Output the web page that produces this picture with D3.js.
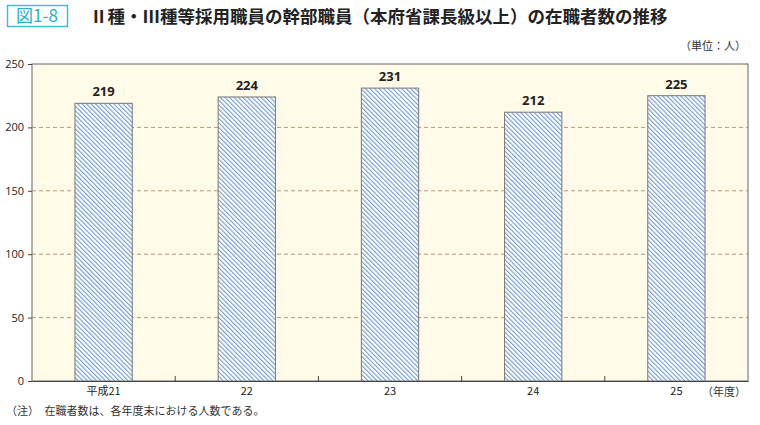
<!DOCTYPE html>
<html><head><meta charset="utf-8">
<script src="https://cdn.jsdelivr.net/npm/d3@7"></script>
<style>body{margin:0;background:#fff;font-family:"Open Sans","Noto Sans CJK JP",sans-serif;}</style>
</head><body><svg id="c" width="760" height="425"></svg>
<script>
const categories = ['平成21', '22', '23', '24', '25'];
const values = [219, 224, 231, 212, 225];
const yTicks = [0, 50, 100, 150, 200, 250];

const svg = d3.select('#c');
const jp = '"Noto Sans CJK JP", sans-serif';
const margin = {left: 32, right: 12, top: 64, bottom: 44};
const W = 760, H = 425;

const x = d3.scaleBand().domain(categories).range([margin.left, W - margin.right]).paddingInner(0.6).paddingOuter(0.3);
const y = d3.scaleLinear().domain([0, 250]).range([H - margin.bottom, margin.top]);

const defs = svg.append('defs');
const pat = defs.append('pattern').attr('id', 'hatch').attr('patternUnits', 'userSpaceOnUse')
  .attr('width', 3.2).attr('height', 4).attr('patternTransform', 'rotate(-45)');
pat.append('rect').attr('width', 3.2).attr('height', 4).attr('fill', '#fff');
pat.append('rect').attr('width', 1.1).attr('height', 4).attr('fill', '#6f9ad8');

// title
svg.append('rect').attr('x', 7.5).attr('y', 5.5).attr('width', 60).attr('height', 21)
  .attr('fill', '#fff').attr('stroke', '#3fbfd0').attr('stroke-width', 1.5);
svg.append('text').attr('x', 37).attr('y', 22).attr('text-anchor', 'middle').attr('fill', '#2ab0c8')
  .attr('font-size', 17).attr('font-family', jp).text('図1-8');
svg.append('text').attr('x', 90).attr('y', 23).attr('font-size', 17.5).attr('font-weight', 'bold')
  .attr('font-family', jp).attr('fill', '#222').text('Ⅱ種・Ⅲ種等採用職員の幹部職員（本府省課長級以上）の在職者数の推移');
svg.append('text').attr('x', 746).attr('y', 50).attr('text-anchor', 'end').attr('font-size', 11)
  .attr('font-family', jp).attr('fill', '#333').text('（単位：人）');

// plot
svg.append('rect').attr('x', margin.left).attr('y', margin.top)
  .attr('width', W - margin.right - margin.left).attr('height', H - margin.bottom - margin.top)
  .attr('fill', '#fffbe8').attr('stroke', '#666');

svg.append('g').selectAll('line').data(yTicks.filter(d => d > 0 && d < 250)).join('line')
  .attr('x1', margin.left).attr('x2', W - margin.right)
  .attr('y1', d => y(d)).attr('y2', d => y(d))
  .attr('stroke', '#a08060').attr('stroke-dasharray', '4,3').attr('stroke-width', 0.8);

svg.append('g').selectAll('rect').data(values).join('rect')
  .attr('x', (d, i) => x(categories[i])).attr('width', x.bandwidth())
  .attr('y', d => y(d)).attr('height', d => y(0) - y(d))
  .attr('fill', 'url(#hatch)').attr('stroke', '#777').attr('stroke-width', 1);

svg.append('g').selectAll('text').data(values).join('text')
  .attr('x', (d, i) => x(categories[i]) + x.bandwidth() / 2).attr('y', d => y(d) - 7)
  .attr('text-anchor', 'middle').attr('font-size', 13).attr('font-weight', 'bold').attr('fill', '#222')
  .text(d => d);

// axes
const yAxis = svg.append('g').attr('transform', `translate(${margin.left},0)`)
  .call(d3.axisLeft(y).tickValues(yTicks).tickSize(4).tickPadding(4));
yAxis.select('.domain').remove();
yAxis.selectAll('text').attr('font-size', 11).attr('fill', '#222').attr('font-family', '"Open Sans",sans-serif');
yAxis.selectAll('line').attr('stroke', '#444');

const xAxis = svg.append('g').attr('transform', `translate(0,${y(0)})`)
  .call(d3.axisBottom(x).tickSize(0).tickPadding(6));
xAxis.select('.domain').attr('stroke', '#444');
xAxis.selectAll('text').attr('font-size', 11).attr('fill', '#222').attr('font-family', jp);
const step = x.step();
svg.append('g').selectAll('line').data(categories.slice(1)).join('line')
  .attr('x1', d => x(d) - step * x.paddingInner() / 2).attr('x2', d => x(d) - step * x.paddingInner() / 2)
  .attr('y1', y(0)).attr('y2', y(0) - 5).attr('stroke', '#444');

svg.append('text').attr('x', 746).attr('y', 396).attr('text-anchor', 'end').attr('font-size', 11)
  .attr('font-family', jp).attr('fill', '#333').text('（年度）');
svg.append('text').attr('x', 6).attr('y', 415).attr('font-size', 11)
  .attr('font-family', jp).attr('fill', '#333').text('（注）　在職者数は、各年度末における人数である。');
</script></body></html>
